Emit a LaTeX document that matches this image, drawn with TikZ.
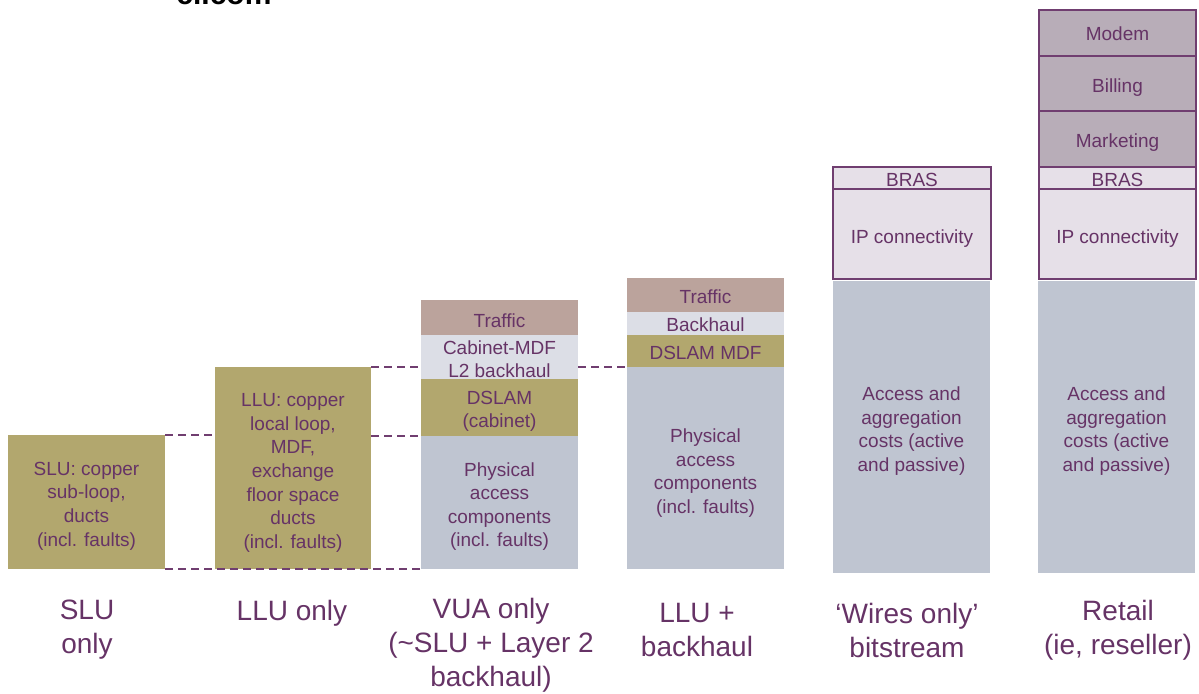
\documentclass[tikz,border=0pt]{standalone}
\usepackage{fontspec}
\setmainfont{Liberation Sans}
\usetikzlibrary{fit}
\definecolor{txtpurple}{RGB}{102,51,102}
\definecolor{linepurple}{RGB}{112,62,112}
\definecolor{olive}{RGB}{178,167,110}
\definecolor{steel}{RGB}{191,197,209}
\definecolor{pale}{RGB}{220,222,230}
\definecolor{traffic}{RGB}{187,163,156}
\definecolor{ipfill}{RGB}{230,224,232}
\definecolor{retailfill}{RGB}{184,173,184}
\tikzset{
  layer/.style={inner sep=0pt, outer sep=0pt},
  olivebox/.style={layer, fill=olive},
  steelbox/.style={layer, fill=steel},
  palebox/.style={layer, fill=pale},
  trafficbox/.style={layer, fill=traffic},
  ipbox/.style={layer, fill=ipfill, draw=linepurple, line width=0.75pt},
  retailbox/.style={layer, fill=retailfill, draw=linepurple, line width=0.75pt},
  boxtext/.style={align=center, text=txtpurple, inner sep=0pt,
    font=\fontsize{9.5}{11.8}\selectfont},
  guide/.style={draw=linepurple, line width=0.7pt, dash pattern=on 4pt off 2.5pt},
  caption/.style={align=center, text=txtpurple, inner sep=0pt,
    font=\fontsize{14}{17}\selectfont},
}
\begin{document}
\begin{tikzpicture}[x=0.5pt, y=-0.5pt]
\useasboundingbox (0,0) rectangle (1199,693);

% header text running off the top edge
\node[anchor=base west, inner sep=0pt, font=\fontsize{15}{18}\selectfont\bfseries] (hdr) at (176,4) {cl.com};

% SLU only
\node[olivebox, fit={(8,435) (165,569)}] (slu) {};
\node[boxtext] (slu-t) at ([yshift=-2pt]slu.center) {SLU: copper\\sub-loop,\\ducts\\(incl. faults)};

% LLU only
\node[olivebox, fit={(215,367) (371,569)}] (llu) {};
\node[boxtext] (llu-t) at ([yshift=-2.5pt]llu.center) {LLU: copper\\local loop,\\MDF,\\exchange\\floor space\\ducts\\(incl. faults)};

% VUA only
\node[steelbox, fit={(421,436) (578,569)}] (vphys) {};
\node[olivebox, fit={(421,379) (578,436)}] (vdslam) {};
\node[palebox, fit={(421,335) (578,379)}] (vcab) {};
\node[trafficbox, fit={(421,300) (578,335)}] (vtraf) {};
\node[boxtext] (vphys-t) at ([yshift=-2pt]vphys.center) {Physical\\access\\components\\(incl. faults)};
\node[boxtext] (vdslam-t) at ([yshift=-2pt]vdslam.center) {DSLAM\\(cabinet)};
\node[boxtext] (vcab-t) at ([yshift=-1pt]vcab.center) {Cabinet-MDF\\L2 backhaul};
\node[boxtext] (vtraf-t) at ([yshift=-1.5pt]vtraf.center) {Traffic};

% LLU + backhaul
\node[steelbox, fit={(627,367) (784,569)}] (bphys) {};
\node[olivebox, fit={(627,335) (784,367)}] (bdslam) {};
\node[palebox, fit={(627,312) (784,335)}] (bback) {};
\node[trafficbox, fit={(627,278) (784,312)}] (btraf) {};
\node[boxtext] (bphys-t) at ([yshift=-2.5pt]bphys.center) {Physical\\access\\components\\(incl. faults)};
\node[boxtext] (bdslam-t) at ([yshift=-1pt]bdslam.center) {DSLAM MDF};
\node[boxtext] (bback-t) at ([yshift=-0.5pt]bback.center) {Backhaul};
\node[boxtext] (btraf-t) at ([yshift=-1pt]btraf.center) {Traffic};

% Wires-only bitstream
\node[steelbox, fit={(833,281) (990,573)}] (wacc) {};
\node[ipbox, fit={(833,189) (991,279)}] (wip) {};
\node[ipbox, fit={(833,167) (991,189)}] (wbras) {};
\node[boxtext] (wacc-t) at ([yshift=-2pt]wacc.center) {Access and\\aggregation\\costs (active\\and passive)};
\node[boxtext] (wip-t) at ([yshift=-2.5pt]wip.center) {IP connectivity};
\node[boxtext] (wbras-t) at ([yshift=-1pt]wbras.center) {BRAS};

% Retail
\node[steelbox, fit={(1038,281) (1195,573)}] (racc) {};
\node[ipbox, fit={(1039,189) (1196,279)}] (rip) {};
\node[ipbox, fit={(1039,167) (1196,189)}] (rbras) {};
\node[retailbox, fit={(1039,111) (1196,167)}] (rmkt) {};
\node[retailbox, fit={(1039,56) (1196,111)}] (rbill) {};
\node[retailbox, fit={(1039,10) (1196,56)}] (rmodem) {};
\node[boxtext] (racc-t) at ([yshift=-2pt]racc.center) {Access and\\aggregation\\costs (active\\and passive)};
\node[boxtext] (rip-t) at ([yshift=-2.5pt]rip.center) {IP connectivity};
\node[boxtext] (rbras-t) at ([yshift=-1pt]rbras.center) {BRAS};
\node[boxtext] (rmkt-t) at ([yshift=-2pt]rmkt.center) {Marketing};
\node[boxtext] (rbill-t) at ([yshift=-2pt]rbill.center) {Billing};
\node[boxtext] (rmodem-t) at ([yshift=-0.5pt]rmodem.center) {Modem};

% dashed level guides
\path[guide] (slu.north east) -- (llu.west |- slu.north east);
\path[guide] (llu.east |- vphys.north west) -- (vphys.north west);
\path[guide] (llu.north east) -- (vcab.west |- llu.north east);
\path[guide] (vcab.east |- bphys.north west) -- (bphys.north west);
\path[guide] (slu.south east) -- (vphys.south west);

% captions
\node[caption] (c1) at (87,630) {SLU\\only};
\node[caption] (c2) at (292,613) {LLU only};
\node[caption] (c3) at (491,645) {VUA only\\(\textasciitilde SLU + Layer 2\\backhaul)};
\node[caption] (c4) at (697,630) {LLU +\\backhaul};
\node[caption] (c5) at (907,630) {‘Wires only’\\bitstream};
\node[caption] (c6) at (1118,630) {Retail\\(ie, reseller)};
\end{tikzpicture}
\end{document}
